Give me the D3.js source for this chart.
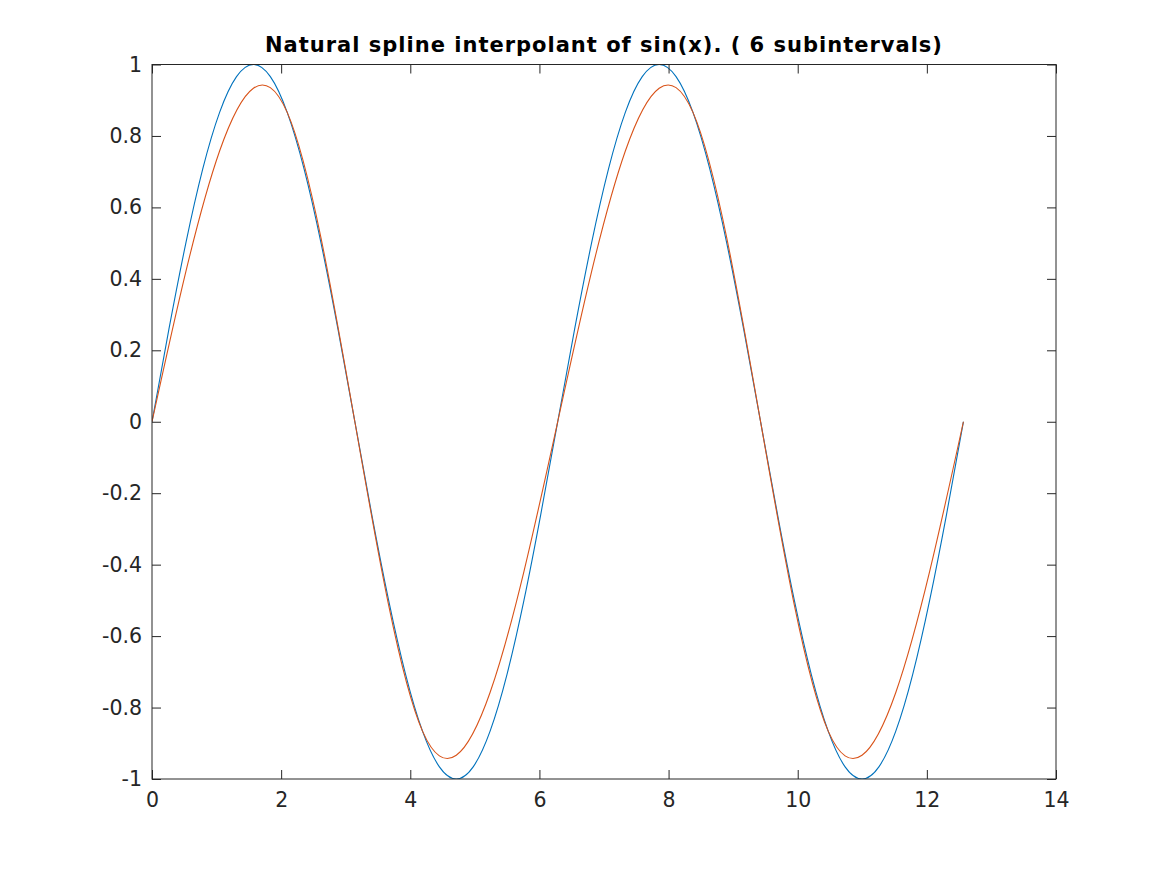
<!DOCTYPE html>
<html>
<head>
<meta charset="utf-8">
<script src="https://cdn.jsdelivr.net/npm/d3@7"></script>
<style>
  html, body { margin: 0; padding: 0; background: #fff; }
  svg { display: block; }
</style>
</head>
<body>
<svg id="chart" width="1167" height="875"></svg>
<script>
// ---- data ----
const titleText = "Natural spline interpolant of sin(x). ( 6 subintervals)";
const xTicks = [0, 2, 4, 6, 8, 10, 12, 14];
const yTicks = [-1, -0.8, -0.6, -0.4, -0.2, 0, 0.2, 0.4, 0.6, 0.8, 1];
const yTickLabels = ["-1", "-0.8", "-0.6", "-0.4", "-0.2", "0", "0.2", "0.4", "0.6", "0.8", "1"];

// sin(x) read at steps of about 0.262 from 0 to 12.566
const sinX = [0, 0.262, 0.524, 0.785, 1.047, 1.309, 1.571, 1.833, 2.094, 2.356, 2.618, 2.880,
  3.142, 3.403, 3.665, 3.927, 4.189, 4.451, 4.712, 4.974, 5.236, 5.498, 5.760, 6.021,
  6.283, 6.545, 6.807, 7.069, 7.330, 7.592, 7.854, 8.116, 8.378, 8.639, 8.901, 9.163,
  9.425, 9.687, 9.948, 10.210, 10.472, 10.734, 10.996, 11.257, 11.519, 11.781, 12.043, 12.305, 12.566];
const sinY = [0, 0.259, 0.5, 0.707, 0.866, 0.966, 1, 0.966, 0.866, 0.707, 0.5, 0.259,
  0, -0.259, -0.5, -0.707, -0.866, -0.966, -1, -0.966, -0.866, -0.707, -0.5, -0.259,
  0, 0.259, 0.5, 0.707, 0.866, 0.966, 1, 0.966, 0.866, 0.707, 0.5, 0.259,
  0, -0.259, -0.5, -0.707, -0.866, -0.966, -1, -0.966, -0.866, -0.707, -0.5, -0.259, 0];

// spline knots (6 subintervals)
const knotX = [0, 2.094, 4.189, 6.283, 8.378, 10.472, 12.566];
const knotY = [0, 0.866, -0.866, 0, 0.866, -0.866, 0];

// ---- layout ----
const pL = 152, pR = 1056, pT = 64.5, pB = 779;
const svg = d3.select("#chart");
const x = d3.scaleLinear().domain([0, 14]).range([pL, pR]);
const y = d3.scaleLinear().domain([-1, 1]).range([pB, pT]);
const axisColor = "#262626";
const font = "'DejaVu Sans', sans-serif";
const tickLen = 9;

svg.append("clipPath").attr("id", "clip").append("rect")
  .attr("x", pL).attr("y", pT).attr("width", pR - pL).attr("height", pB - pT);

const plot = svg.append("g").attr("clip-path", "url(#clip)");
plot.append("path")
  .datum(d3.zip(sinX, sinY))
  .attr("d", d3.line().x(d => x(d[0])).y(d => y(d[1])).curve(d3.curveNatural))
  .attr("fill", "none").attr("stroke", "#0072BD").attr("stroke-width", 1.1);

plot.append("path")
  .datum(d3.zip(knotX, knotY))
  .attr("d", d3.line().x(d => x(d[0])).y(d => y(d[1])).curve(d3.curveNatural))
  .attr("fill", "none").attr("stroke", "#D95319").attr("stroke-width", 1.1);

// axes (ticks inward on all sides)
const axB = svg.append("g").attr("transform", `translate(0,${pB})`)
  .call(d3.axisBottom(x).tickValues(xTicks).tickSizeInner(-tickLen).tickSizeOuter(0).tickPadding(13).tickFormat(d3.format("d")));
const axT = svg.append("g").attr("transform", `translate(0,${pT})`)
  .call(d3.axisTop(x).tickValues(xTicks).tickSizeInner(-tickLen).tickSizeOuter(0).tickFormat(""));
const axL = svg.append("g").attr("transform", `translate(${pL},0)`)
  .call(d3.axisLeft(y).tickValues(yTicks).tickSizeInner(-tickLen).tickSizeOuter(0).tickPadding(10)
    .tickFormat((d, i) => yTickLabels[i]));
const axR = svg.append("g").attr("transform", `translate(${pR},0)`)
  .call(d3.axisRight(y).tickValues(yTicks).tickSizeInner(-tickLen).tickSizeOuter(0).tickFormat(""));

[axB, axT, axL, axR].forEach(g => {
  g.select(".domain").remove();
  g.selectAll(".tick line").attr("stroke", axisColor).attr("stroke-width", 1);
  g.selectAll(".tick text").attr("fill", axisColor).attr("font-family", font).attr("font-size", 20.5);
});

svg.append("rect")
  .attr("x", pL).attr("y", pT).attr("width", pR - pL).attr("height", pB - pT)
  .attr("fill", "none").attr("stroke", axisColor).attr("stroke-width", 1);

svg.append("text")
  .attr("x", (pL + pR) / 2).attr("y", 52)
  .attr("text-anchor", "middle")
  .attr("font-family", font).attr("font-weight", "bold").attr("font-size", 21)
  .attr("letter-spacing", 1)
  .attr("fill", "#000")
  .text(titleText);
</script>
</body>
</html>
